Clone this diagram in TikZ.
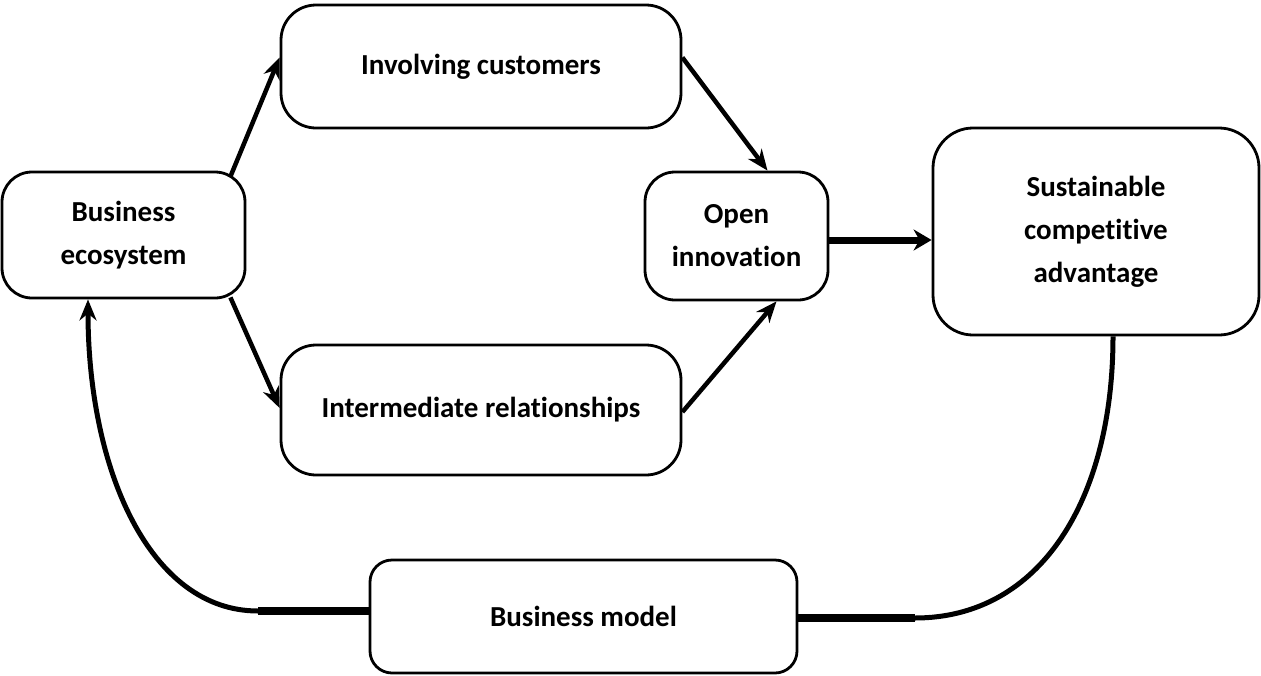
\documentclass[tikz,border=0pt]{standalone}
\usepackage{fontspec}
\setmainfont{Carlito}[Ligatures=NoCommon]
\usetikzlibrary{arrows.meta,calc}
\tikzset{
  box/.style={draw, line width=2.8pt, rounded corners=30pt, align=center,
    font=\fontsize{29}{43}\selectfont\bfseries, inner sep=0pt},
  arr/.style={line width=4.5pt, -{Stealth[length=21pt,width=17pt]}},
  thickarr/.style={line width=7pt, -{Stealth[length=18pt,width=21pt]}},
  loopline/.style={line width=5pt},
  joinline/.style={line width=7.5pt},
}
\begin{document}
\begin{tikzpicture}[x=1pt,y=-1pt]
\useasboundingbox (0,0) rectangle (1261,675);
\node[box, minimum width=243pt, minimum height=126pt] (be) at (123.5,235) {Business\\ecosystem};
\node[box, minimum width=400pt, minimum height=123pt, rounded corners=35pt] (ic) at (481,66.5) {Involving customers};
\node[box, minimum width=183pt, minimum height=128pt] (oi) at (736.5,236) {Open\\innovation};
\node[box, minimum width=326pt, minimum height=207pt, rounded corners=40pt] (sca) at (1096,231.5) {Sustainable\\competitive\\advantage};
\node[box, minimum width=400pt, minimum height=130pt, rounded corners=35pt] (ir) at (481,410) {Intermediate relationships};
\node[box, minimum width=427pt, minimum height=113pt, rounded corners=22pt] (bm) at (583.5,616.5) {Business model};
\coordinate (r) at (915,618);
\coordinate (l) at (258,611);

\draw[arr] ($(be.north east)+(-16,6)$) -- ($(ic.west)+(0,-9)$);
\draw[arr] ($(be.south east)+(-16,-2)$) -- ($(ir.west)+(0,-2)$);
\draw[arr] ($(ic.east)+(0,-9)$) -- ($(oi.north)+(31,0)$);
\draw[arr] ($(ir.east)+(0,2)$) -- ($(oi.south)+(40,0)$);
\draw[thickarr] ($(oi.east)+(0,4)$) -- ($(sca.west)+(0,8.5)$);

\draw[loopline] ($(sca.south)+(17,0)$) .. controls (1113,500) and (1040,618) .. (r);
\draw[joinline] (r) -- ($(bm.east)+(0,1.5)$);
\draw[joinline] ($(bm.west)+(0,-5.5)$) -- (l);
\draw[loopline, -{Stealth[length=21pt,width=17pt]}] (l) .. controls (150,611) and (88,470) .. ($(be.south)+(-35.5,0)$);
\end{tikzpicture}
\end{document}
